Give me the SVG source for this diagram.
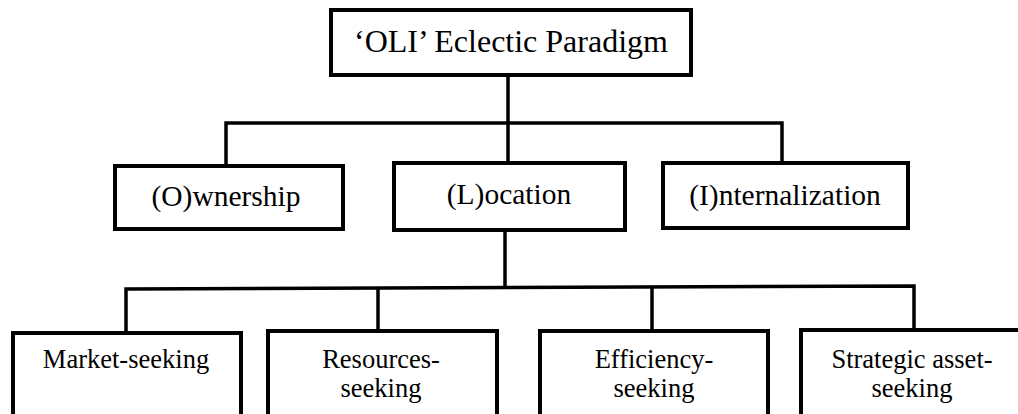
<svg xmlns="http://www.w3.org/2000/svg" width="1018" height="414" viewBox="0 0 1018 414">
<style>
.box{fill:#fff;stroke:#000;stroke-width:4}
.t{font-family:'Liberation Serif','Times New Roman',serif;fill:#000;text-anchor:middle}
.t1{font-size:32px}
.t2{font-size:29.5px}
.t3{font-size:26.5px}
.c{stroke:#000;stroke-width:3.5;fill:none}
</style>
<rect width="1018" height="414" fill="#fff"/>
<g id="connectors">
<line class="c" x1="508" y1="75" x2="508" y2="163"/>
<polyline class="c" points="226,165 226,123 782,123 782,163"/>
<line class="c" x1="505" y1="230" x2="505" y2="288"/>
<polyline class="c" points="126,333 126,289 914,286 914,330"/>
<line class="c" x1="378" y1="288.5" x2="378" y2="331"/>
<line class="c" x1="652" y1="287" x2="652" y2="331"/>
</g>
<g id="node-oli">
<rect class="box" x="331" y="10" width="360" height="65"/>
<text class="t t1" x="511" y="52">‘OLI’ Eclectic Paradigm</text>
</g>
<g id="node-ownership">
<rect class="box" x="115" y="166" width="228" height="63"/>
<text class="t t2" x="226" y="206">(O)wnership</text>
</g>
<g id="node-location">
<rect class="box" x="394" y="163" width="231" height="67"/>
<text class="t t2" x="509" y="204">(L)ocation</text>
</g>
<g id="node-internalization">
<rect class="box" x="663" y="163" width="245" height="65"/>
<text class="t t2" x="785" y="205">(I)nternalization</text>
</g>
<g id="node-market">
<rect class="box" x="13" y="333" width="228" height="90"/>
<text class="t t3" x="126" y="368">Market-seeking</text>
</g>
<g id="node-resources">
<rect class="box" x="268" y="331" width="229" height="92"/>
<text class="t t3" x="381" y="368">Resources-</text>
<text class="t t3" x="381" y="397">seeking</text>
</g>
<g id="node-efficiency">
<rect class="box" x="540" y="331" width="228" height="92"/>
<text class="t t3" x="654" y="368">Efficiency-</text>
<text class="t t3" x="654" y="397">seeking</text>
</g>
<g id="node-strategic">
<rect class="box" x="801" y="330" width="220" height="93"/>
<text class="t t3" x="912" y="368">Strategic asset-</text>
<text class="t t3" x="912" y="397">seeking</text>
</g>
</svg>
